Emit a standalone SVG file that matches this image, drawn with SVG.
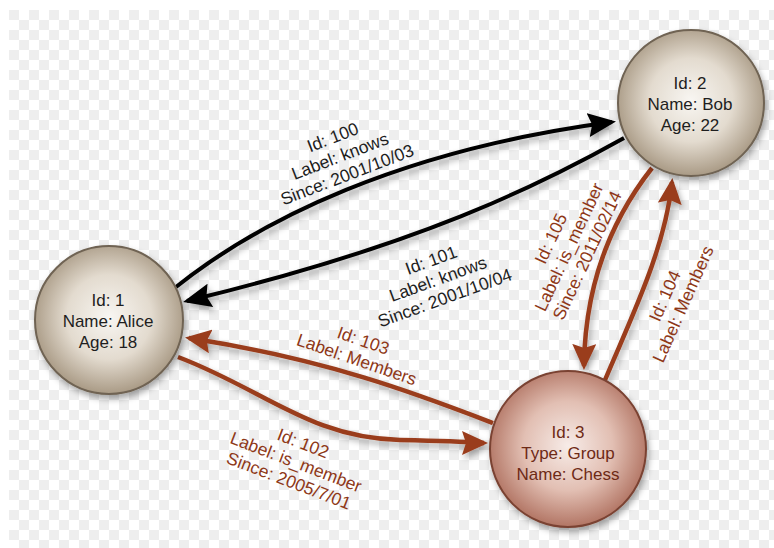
<svg xmlns="http://www.w3.org/2000/svg" width="774" height="548" viewBox="0 0 774 548">
  <style>
    .ntext { font-family: "Liberation Sans", Arial, sans-serif; font-size: 17px; text-anchor: middle; fill: #1e1e1e; }
    .ntext-b { fill: #6e2a16; }
    .elabel { font-family: "Liberation Sans", Arial, sans-serif; font-size: 17.5px; text-anchor: middle; fill: #1e1e1e; }
    .elabel-b { fill: #8e3818; }
    .edge-k { fill: none; stroke: #000; stroke-width: 4; }
    .edge-b { fill: none; stroke: #9a3c1c; stroke-width: 4.5; }
    .node-tan { fill: url(#gTan); stroke: #6f6353; stroke-width: 2; }
    .node-brn { fill: url(#gBrn); stroke: #7a4232; stroke-width: 2; }
  </style>
  <defs>
    <pattern id="checker" x="9" y="10" width="20" height="20" patternUnits="userSpaceOnUse">
      <rect width="20" height="20" fill="#ffffff"/>
      <rect width="10" height="10" fill="#eeeeee"/>
      <rect x="10" y="10" width="10" height="10" fill="#eeeeee"/>
    </pattern>
    <radialGradient id="gTan" cx="50%" cy="48%" r="52%">
      <stop offset="0" stop-color="#f8f6f2"/>
      <stop offset="0.55" stop-color="#e3dbcf"/>
      <stop offset="1" stop-color="#a99a85"/>
    </radialGradient>
    <radialGradient id="gBrn" cx="50%" cy="48%" r="52%">
      <stop offset="0" stop-color="#f7ece8"/>
      <stop offset="0.55" stop-color="#e2bfb3"/>
      <stop offset="1" stop-color="#b27564"/>
    </radialGradient>
    <filter id="shadow" x="-20%" y="-20%" width="140%" height="150%">
      <feDropShadow dx="2" dy="4" stdDeviation="3" flood-color="#000" flood-opacity="0.35"/>
    </filter>
    <marker id="arrK" viewBox="0 0 28 24" refX="24" refY="12" markerWidth="28" markerHeight="24" markerUnits="userSpaceOnUse" orient="auto">
      <path d="M0,0 L28,12 L0,24 L4,12 z" fill="#000"/>
    </marker>
    <marker id="arrB" viewBox="0 0 26 24" refX="22" refY="12" markerWidth="26" markerHeight="24" markerUnits="userSpaceOnUse" orient="auto">
      <path d="M0,0 L26,12 L0,24 L4,12 z" fill="#9a3c1c"/>
    </marker>
  </defs>

  <rect x="0" y="0" width="774" height="548" fill="#ffffff"/>
  <rect x="9" y="10" width="765" height="538" fill="url(#checker)"/>

  <g id="connectors" filter="url(#shadow)">
    <path id="e100" class="edge-k" d="M176,287 C260,220 400,150 612,122" marker-end="url(#arrK)"/>
    <path id="e101" class="edge-k" d="M624,138 C540,185 420,245 187,301" marker-end="url(#arrK)"/>
    <path id="e103" class="edge-b" d="M493,423 C420,395 330,360 189,338" marker-end="url(#arrB)"/>
    <path id="e102" class="edge-b" d="M178,357 C265,390 310,438 400,440 S470,443 484,443" marker-end="url(#arrB)"/>
    <path id="e105" class="edge-b" d="M652,168 C615,215 585,280 584,366" marker-end="url(#arrB)"/>
    <path id="e104" class="edge-b" d="M605,380 C630,320 665,250 672,182" marker-end="url(#arrB)"/>
  </g>

  <g id="edge-labels">
    <text class="elabel" transform="translate(340,156) rotate(-21)"><tspan x="0" y="-14">Id: 100</tspan><tspan x="0" y="6">Label: knows</tspan><tspan x="0" y="26">Since: 2001/10/03</tspan></text>
    <text class="elabel" transform="translate(438,279) rotate(-20)"><tspan x="0" y="-14">Id: 101</tspan><tspan x="0" y="6">Label: knows</tspan><tspan x="0" y="26">Since: 2001/10/04</tspan></text>
    <text class="elabel elabel-b" transform="translate(360,350) rotate(19)"><tspan x="0" y="-4">Id: 103</tspan><tspan x="0" y="16">Label: Members</tspan></text>
    <text class="elabel elabel-b" transform="translate(296,462) rotate(21)"><tspan x="0" y="-14">Id: 102</tspan><tspan x="0" y="6">Label: is_member</tspan><tspan x="0" y="26">Since: 2005/7/01</tspan></text>
    <text class="elabel elabel-b" transform="translate(569,247) rotate(-65)"><tspan x="0" y="-14">Id: 105</tspan><tspan x="0" y="6">Label: is_member</tspan><tspan x="0" y="26">Since: 2011/02/14</tspan></text>
    <text class="elabel elabel-b" transform="translate(674,300) rotate(-66)"><tspan x="0" y="-4">Id: 104</tspan><tspan x="0" y="16">Label: Members</tspan></text>
  </g>

  <g id="node-bob">
    <circle class="node-tan" cx="691" cy="103" r="73" filter="url(#shadow)"/>
    <text class="ntext"><tspan x="690" y="89">Id: 2</tspan><tspan x="690" y="110">Name: Bob</tspan><tspan x="690" y="131">Age: 22</tspan></text>
  </g>
  <g id="node-alice">
    <circle class="node-tan" cx="109" cy="320" r="74" filter="url(#shadow)"/>
    <text class="ntext"><tspan x="108" y="306">Id: 1</tspan><tspan x="108" y="327">Name: Alice</tspan><tspan x="108" y="348">Age: 18</tspan></text>
  </g>
  <g id="node-chess">
    <circle class="node-brn" cx="568" cy="449" r="78" filter="url(#shadow)"/>
    <text class="ntext ntext-b"><tspan x="568" y="438">Id: 3</tspan><tspan x="568" y="459">Type: Group</tspan><tspan x="568" y="480">Name: Chess</tspan></text>
  </g>
</svg>
